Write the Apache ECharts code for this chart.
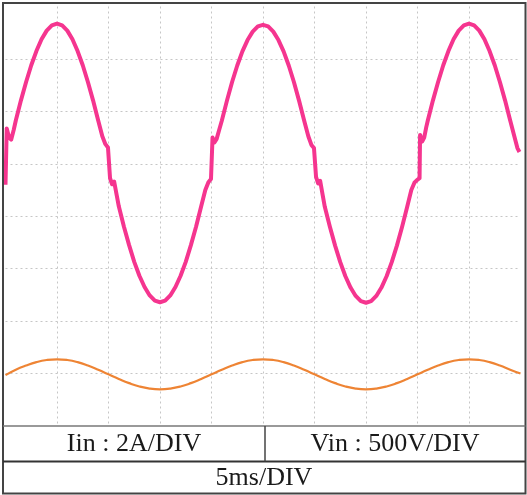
<!DOCTYPE html>
<html>
<head>
<meta charset="utf-8">
<script src="https://cdn.jsdelivr.net/npm/echarts@6/dist/echarts.min.js"></script>
<style>
html,body{margin:0;padding:0;background:#fff;}
#chart{width:527px;height:495px;}
</style>
</head>
<body>
<div id="chart"></div>
<script>
// time (ms) for the input current trace
var tIin = [0,0.12,0.35,0.55,0.8,1,1.5,2,2.5,3,3.5,4,4.5,5,5.5,6,6.5,7,7.5,8,8.5,9,9.4,9.7,9.95,10.15,10.35,10.55,10.8,
 11,11.5,12,12.5,13,13.5,14,14.5,15,15.5,16,16.5,17,17.5,18,18.5,19,19.4,19.7,19.95,20.1,20.3,20.5,20.75,
 21,21.5,22,22.5,23,23.5,24,24.5,25,25.5,26,26.5,27,27.5,28,28.5,29,29.4,29.7,29.95,30.15,30.35,30.55,30.8,
 31,31.5,32,32.5,33,33.5,34,34.5,35,35.5,36,36.5,37,37.5,38,38.5,39,39.4,39.7,39.95,40.2,40.25,40.45,40.65,40.85,
 41,41.5,42,42.5,43,43.5,44,44.5,45,45.5,46,46.5,47,47.5,48,48.5,49,49.4,49.7,49.9];
// input current (A)
var iin = [-0.8,1.35,1.0,0.92,1.3,1.65,2.42,3.12,3.76,4.3,4.75,5.08,5.28,5.35,5.28,5.08,4.75,4.3,3.76,3.12,2.42,1.65,1.05,0.75,0.62,-0.55,-0.78,-0.68,-1.2,
 -1.62,-2.4,-3.1,-3.74,-4.27,-4.7,-5.02,-5.22,-5.28,-5.22,-5.02,-4.7,-4.27,-3.74,-3.1,-2.4,-1.62,-1.0,-0.7,-0.58,1.0,0.82,0.95,1.3,
 1.64,2.41,3.12,3.75,4.29,4.72,5.04,5.24,5.3,5.24,5.04,4.72,4.29,3.75,3.12,2.41,1.64,1.05,0.72,0.6,-0.5,-0.75,-0.65,-1.2,
 -1.64,-2.41,-3.12,-3.75,-4.29,-4.72,-5.04,-5.24,-5.3,-5.24,-5.04,-4.72,-4.29,-3.75,-3.12,-2.41,-1.64,-1.0,-0.72,-0.62,-0.55,1.1,0.85,1.0,1.4,
 1.65,2.42,3.12,3.76,4.3,4.75,5.08,5.28,5.35,5.28,5.08,4.75,4.3,3.76,3.12,2.42,1.65,1.05,0.6,0.45];
// time (ms) for the input voltage trace
var tVin = [0,1,2,3,4,5,6,7,8,9,10,11,12,13,14,15,16,17,18,19,20,21,22,23,24,25,26,27,28,29,30,31,32,33,34,35,36,37,38,39,40,41,42,43,44,45,46,47,48,49,50];
// input voltage (V)
var vin = [-15,37,77,109,129,136,129,109,77,37,-7,-51,-91,-123,-143,-150,-143,-123,-91,-51,-7,37,77,109,129,136,129,109,77,37,-7,-51,-91,-123,-143,-150,-143,-123,-91,-51,-7,37,77,109,129,136,129,109,77,37,0];
// table labels
var labelIin = 'Iin : 2A/DIV';
var labelVin = 'Vin : 500V/DIV';
var labelTime = '5ms/DIV';

function pairs(xs, ys){ var out=[]; for(var k=0;k<xs.length;k++){ out.push([xs[k], ys[k]]); } return out; }

var chart = echarts.init(document.getElementById('chart'), null, {renderer:'canvas'});
var dashed = {show:true, showMinLine:false, showMaxLine:false, lineStyle:{color:'#c6c6c6', type:[2,3], width:1}};
var font = "'Liberation Serif','Times New Roman',serif";
chart.setOption({
  animation:false,
  backgroundColor:'#ffffff',
  grid:{left:5.5, right:6.5, top:6.5, bottom:69},
  xAxis:{type:'value', min:0, max:50, interval:5, axisLine:{show:false}, axisTick:{show:false}, axisLabel:{show:false}, splitLine:dashed},
  yAxis:[
    {type:'value', min:-10, max:6, interval:2, axisLine:{show:false}, axisTick:{show:false}, axisLabel:{show:false}, splitLine:dashed},
    {type:'value', min:-500, max:3500, interval:500, position:'right', axisLine:{show:false}, axisTick:{show:false}, axisLabel:{show:false}, splitLine:{show:false}}
  ],
  series:[
    {type:'line', yAxisIndex:1, data:pairs(tVin, vin), smooth:true, showSymbol:false, lineStyle:{color:'#ee8434', width:2.2}},
    {type:'line', yAxisIndex:0, data:pairs(tIin, iin), showSymbol:false, lineStyle:{color:'#f5358f', width:4, join:'round'}}
  ],
  graphic:[
    {type:'rect', shape:{x:3, y:3, width:522.5, height:490.5}, style:{fill:null, stroke:'#444', lineWidth:2}, z:100},
    {type:'line', shape:{x1:3, y1:426, x2:525.5, y2:426}, style:{stroke:'#777', lineWidth:1.5}, z:100},
    {type:'line', shape:{x1:3, y1:461.5, x2:525.5, y2:461.5}, style:{stroke:'#333', lineWidth:2}, z:100},
    {type:'line', shape:{x1:265, y1:426, x2:265, y2:461.5}, style:{stroke:'#444', lineWidth:1.5}, z:100},
    {type:'text', x:134, y:444, style:{text:labelIin, font:'26px '+font, fill:'#1a1a1a', textAlign:'center', textVerticalAlign:'middle'}, z:100},
    {type:'text', x:395, y:444, style:{text:labelVin, font:'26px '+font, fill:'#1a1a1a', textAlign:'center', textVerticalAlign:'middle'}, z:100},
    {type:'text', x:264, y:478.5, style:{text:labelTime, font:'26px '+font, fill:'#1a1a1a', textAlign:'center', textVerticalAlign:'middle'}, z:100}
  ]
});
</script>
</body>
</html>
